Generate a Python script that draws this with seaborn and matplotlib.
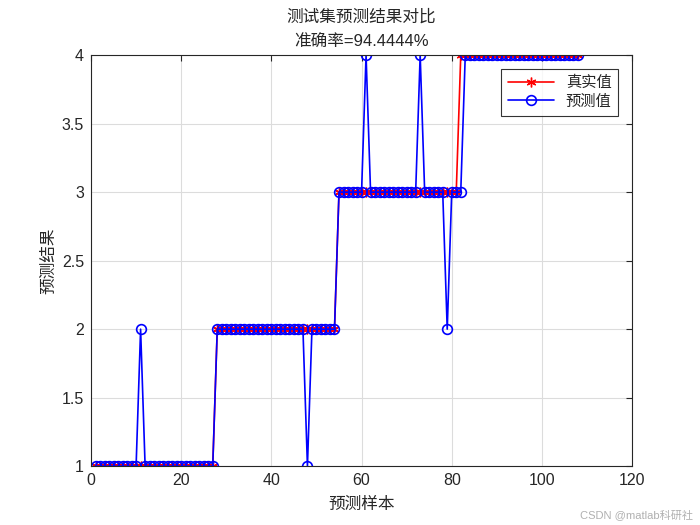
import numpy as np
import pandas as pd
import matplotlib.pyplot as plt
import seaborn as sns

sns.set_style("white")
plt.rcParams['font.family'] = ['Liberation Sans', 'Noto Sans CJK SC', 'DejaVu Sans']

# Test-set labels: 27 samples per class
true_vals = [1] * 27 + [2] * 27 + [3] * 27 + [4] * 27
pred_vals = list(true_vals)
# misclassified samples (1-based index -> predicted class)
wrong = {11: 2, 48: 1, 61: 4, 73: 4, 79: 2, 82: 3}
for idx, cls in wrong.items():
    pred_vals[idx - 1] = cls

samples = np.arange(1, len(true_vals) + 1)
accuracy = 94.4444

df = pd.DataFrame({'样本': samples, '真实值': true_vals, '预测值': pred_vals})

fig, ax = plt.subplots(figsize=(7, 5.25), dpi=100)
fig.subplots_adjust(left=0.13, right=0.903, top=0.895, bottom=0.112)

sns.lineplot(data=df, x='样本', y='真实值', ax=ax, color='red', marker=(6, 2, 0),
             markersize=7, markeredgecolor='red', markeredgewidth=1.0,
             linewidth=1.2, label='真实值')
sns.lineplot(data=df, x='样本', y='预测值', ax=ax, color='blue', marker='o',
             markersize=7, markerfacecolor='none', markeredgecolor='blue',
             markeredgewidth=1.2, linewidth=1.2, label='预测值')

ax.set_xlim(0, 120)
ax.set_ylim(1, 4)
ax.set_xticks(range(0, 121, 20))
ax.set_yticks(np.arange(1, 4.01, 0.5))
ax.set_yticklabels(['1', '1.5', '2', '2.5', '3', '3.5', '4'])
ax.grid(True, color='#dcdcdc', linewidth=0.8)
ax.tick_params(direction='in', labelsize=11.5, length=4, top=True, right=True,
               labelcolor='#262626', pad=5)
for s in ax.spines.values():
    s.set_color('#262626')
    s.set_linewidth(0.8)

ax.set_xlabel('预测样本', fontsize=12, color='#262626', labelpad=6)
ax.set_ylabel('预测结果', fontsize=12, color='#262626', labelpad=4)
ax.set_title('测试集预测结果对比\n准确率=' + f'{accuracy:.4f}' + '%',
             fontsize=12, color='#262626', pad=6, linespacing=1.8)

leg = ax.legend(loc='upper right', fontsize=11, frameon=True, fancybox=False,
                edgecolor='black', borderaxespad=0.9, handlelength=3,
                labelspacing=0.3, borderpad=0.45)
leg.get_frame().set_linewidth(0.8)

fig.text(0.99, 0.01, 'CSDN @matlab科研社', ha='right', va='bottom',
         fontsize=8, color='#b0b0b0')

fig.savefig('out.png', dpi=100)
